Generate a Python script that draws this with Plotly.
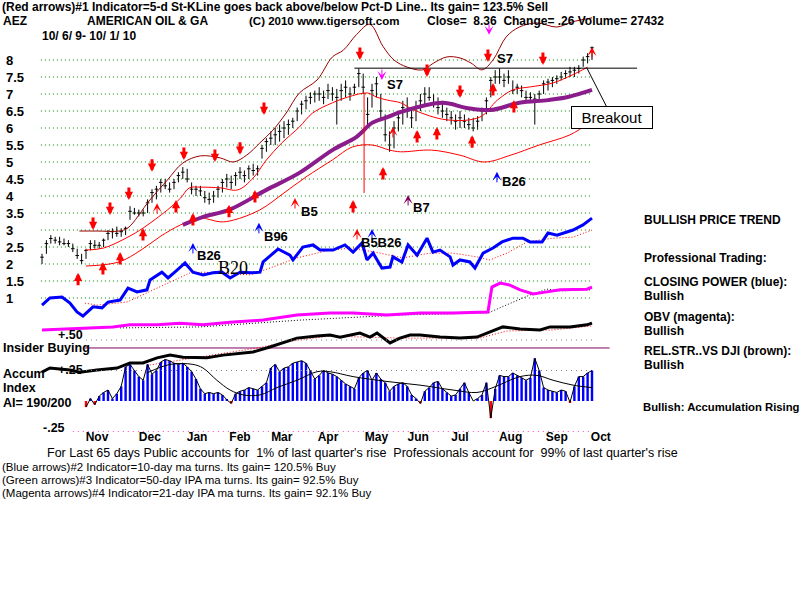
import plotly.graph_objects as go

# ---------------- data ----------------
# trading-day index t: 0 = 10/6/09 ... 250 = 10/1/10 ; one bar every 2 days
bar_t = list(range(0, 251, 2))
bar_low = [2.0, 2.3, 2.6, 2.6, 2.55, 2.55, 2.5, 2.35, 2.15, 2.0,
           2.15, 2.4, 2.45, 2.45, 2.5, 2.7, 2.75, 2.8, 2.8, 2.85,
           3.3, 3.45, 3.4, 3.4, 3.5, 3.8, 3.9, 4.1, 4.2, 4.1,
           4.2, 4.4, 4.5, 4.4, 4.05, 4.0, 4.0, 3.8, 3.75, 3.8,
           3.95, 4.1, 4.25, 4.2, 4.3, 4.5, 4.4, 4.5, 4.6, 4.6,
           5.1, 5.3, 5.5, 5.5, 5.6, 5.7, 5.8, 6.0, 6.2, 6.4,
           6.55, 6.7, 6.75, 6.8, 6.7, 6.85, 6.8, 6.1, 6.8, 6.9,
           6.8, 7.0, 7.2, 7.0, 6.0, 6.6, 6.9, 6.2, 5.6, 5.3,
           5.4, 5.9, 6.1, 6.3, 6.0, 6.2, 6.5, 6.7, 6.8, 6.6,
           6.4, 6.3, 6.2, 6.1, 5.95, 6.0, 6.0, 5.95, 5.9, 5.95,
           6.2, 6.4, 6.9, 7.3, 7.3, 7.2, 7.3, 7.0, 7.0, 6.9,
           6.8, 6.75, 6.1, 6.8, 7.0, 7.1, 7.2, 7.3, 7.4, 7.45,
           7.5, 7.5, 7.6, 7.8, 7.9, 8.0]
bar_high = [2.3, 2.7, 2.85, 2.8, 2.8, 2.75, 2.7, 2.6, 2.45, 2.3,
            2.45, 2.7, 2.7, 2.65, 2.75, 3.0, 3.05, 3.1, 3.05, 3.1,
            3.7, 3.65, 3.6, 3.6, 3.9, 4.2, 4.3, 4.5, 4.5, 4.4,
            4.5, 4.7, 4.85, 4.8, 4.4, 4.3, 4.3, 4.15, 4.1, 4.15,
            4.3, 4.5, 4.65, 4.6, 4.7, 4.85, 4.75, 4.9, 4.95, 4.9,
            5.5, 5.7, 5.9, 6.0, 6.1, 6.2, 6.25, 6.3, 6.6, 6.8,
            6.95, 7.05, 7.1, 7.2, 7.1, 7.3, 7.2, 7.15, 7.3, 7.4,
            7.2, 7.3, 7.75, 7.6, 6.9, 7.3, 7.5, 7.0, 6.4, 5.9,
            6.2, 6.5, 6.8, 6.9, 6.6, 6.8, 7.0, 7.2, 7.2, 7.0,
            6.9, 6.8, 6.6, 6.5, 6.4, 6.5, 6.4, 6.3, 6.3, 6.35,
            6.6, 6.9, 7.5, 7.7, 7.75, 7.6, 7.7, 7.4, 7.3, 7.25,
            7.1, 7.05, 7.0, 7.1, 7.4, 7.45, 7.5, 7.55, 7.65, 7.7,
            7.8, 7.8, 7.85, 8.1, 8.2, 8.4]
bar_close = [2.2, 2.6, 2.75, 2.7, 2.65, 2.6, 2.6, 2.45, 2.25, 2.1,
             2.4, 2.6, 2.55, 2.55, 2.7, 2.9, 2.95, 2.9, 2.95, 3.05,
             3.55, 3.5, 3.5, 3.5, 3.8, 4.1, 4.2, 4.4, 4.3, 4.2,
             4.4, 4.6, 4.7, 4.5, 4.2, 4.2, 4.15, 3.95, 3.9, 4.0,
             4.2, 4.4, 4.5, 4.4, 4.6, 4.7, 4.6, 4.8, 4.75, 4.8,
             5.4, 5.6, 5.7, 5.8, 5.9, 6.0, 6.1, 6.2, 6.5, 6.7,
             6.8, 6.9, 7.0, 7.0, 6.9, 7.1, 7.0, 6.9, 7.1, 7.2,
             7.0, 7.2, 7.6, 7.2, 6.4, 7.1, 7.3, 6.5, 5.8, 5.5,
             6.0, 6.3, 6.6, 6.5, 6.3, 6.6, 6.8, 7.0, 6.9, 6.7,
             6.6, 6.5, 6.4, 6.3, 6.2, 6.3, 6.2, 6.1, 6.0, 6.2,
             6.5, 6.8, 7.4, 7.5, 7.5, 7.4, 7.5, 7.1, 7.2, 7.1,
             6.9, 6.9, 6.85, 7.0, 7.3, 7.35, 7.4, 7.45, 7.5, 7.6,
             7.65, 7.7, 7.75, 8.0, 8.1, 8.36]

# upper (maroon) band
upper_t = [17, 25, 35, 39, 49, 57, 64, 72, 81, 87, 93, 99, 105, 111, 117, 125, 132, 137,
           143, 149, 155, 160, 166, 173, 178, 184, 190, 195, 200, 205, 211, 217, 225, 234, 241, 250]
upper_v = [2.97, 2.97, 2.97, 3.06, 3.88, 4.47, 4.97, 5.18, 5.12, 5.0, 5.2, 5.56, 5.94, 6.44,
           7.03, 7.41, 8.09, 8.29, 8.75, 9.05, 8.4, 8.0, 7.79, 7.71, 7.91, 8.09, 8.06, 7.91,
           7.71, 8.0, 8.68, 8.97, 9.09, 8.97, 9.12, 9.24]
# inner red band
inner_t = [20, 28, 39, 46, 57, 63, 67, 72, 81, 89, 96, 102, 109, 117, 123, 132, 139, 148,
           152, 157, 163, 169, 184, 199, 207, 214, 222, 232, 241, 248]
inner_v = [2.41, 2.47, 2.79, 3.06, 3.59, 3.94, 4.24, 4.26, 4.24, 4.18, 4.53, 5.06, 5.56,
           6.03, 6.44, 6.74, 6.91, 7.03, 6.91, 6.82, 6.74, 6.53, 6.24, 6.32, 6.82, 7.12,
           7.21, 7.32, 7.56, 7.79]
# lower red band
lower_t = [20, 35, 45, 54, 63, 72, 81, 87, 99, 110, 120, 132, 141, 150, 158, 163, 177,
           190, 201, 213, 226, 240, 250]
lower_v = [1.94, 2.06, 2.41, 2.82, 3.15, 3.35, 3.24, 3.29, 3.59, 4.09, 4.56, 5.06, 5.44,
           5.5, 5.35, 5.3, 5.35, 5.2, 5.0, 5.2, 5.5, 5.8, 6.2]
# 50-day moving average (purple)
ma50_t = [64, 73, 85, 102, 117, 132, 143, 150, 157, 163, 182, 193, 204, 217, 230, 239, 250]
ma50_v = [3.15, 3.38, 3.59, 4.18, 4.68, 5.35, 5.74, 6.15, 6.32, 6.47, 6.74, 6.59, 6.53,
          6.74, 6.82, 6.91, 7.12]

# Closing Power (blue), drawn in price-panel units
cp_t = [0, 3.6, 9.1, 12.7, 15.9, 18.6, 23.2, 27.3, 30, 35.5, 39.1, 43.2, 47.7, 49.1, 54.5,
        57.3, 61.4, 65, 68.6, 73.2, 77.7, 81.8, 85.5, 90, 95.5, 99.1, 100.5, 107.3, 112.7,
        114.1, 118.6, 123.2, 126.4, 132.3, 137.7, 141.4, 145.5, 147.7, 150.5, 154.5, 158.2,
        159.5, 163.6, 166.4, 170.5, 175, 177.7, 180.9, 185.5, 186.8, 190, 194.5, 196.8,
        200.5, 205, 209.1, 214.1, 218.6, 221.8, 227.3, 230, 234.1, 238.6, 241.4, 245.9, 250]
cp_v = [0.79, 1.0, 1.03, 0.85, 0.59, 0.47, 0.74, 0.71, 0.88, 0.94, 1.29, 1.18, 1.24, 1.53,
        1.76, 1.59, 1.82, 2.03, 1.76, 1.68, 1.74, 1.76, 1.59, 1.76, 1.74, 1.76, 2.06, 2.44,
        2.26, 2.12, 2.5, 2.56, 2.41, 2.41, 2.56, 2.35, 2.62, 2.12, 2.32, 1.88, 1.91, 2.21,
        2.06, 2.56, 2.26, 2.76, 2.35, 2.41, 2.21, 1.97, 2.12, 2.06, 1.88, 2.32, 2.47, 2.65,
        2.76, 2.76, 2.65, 2.65, 2.91, 2.85, 2.94, 3.0, 3.15, 3.35]
cp_ma_t = [19.5, 25, 38.6, 67.3, 73.2, 94.5, 103.6, 115.9, 130.9, 141.4, 153.6, 164.1,
           176.4, 186.8, 197.7, 203.6, 211.4, 220.5, 232.3, 241.4, 250]
cp_ma_v = [0.85, 0.79, 0.88, 1.74, 1.76, 1.68, 1.88, 2.18, 2.41, 2.47, 2.32, 2.18, 2.32,
           2.32, 2.21, 2.12, 2.32, 2.65, 2.76, 2.79, 3.0]

# OBV (magenta)
obv_t = [0, 17.3, 32.3, 40, 52.3, 62.7, 73.2, 85.5, 100.5, 115.9, 130.9, 141.4, 156.8,
         171.8, 186.8, 202.7, 204.5, 208.2, 212.7, 217.3, 223.2, 229.5, 235.5, 247.7, 250]
obv_v = [0.06, 0.12, 0.15, 0.21, 0.21, 0.26, 0.21, 0.29, 0.35, 0.5, 0.56, 0.56, 0.5, 0.56,
         0.56, 0.59, 1.32, 1.44, 1.38, 1.24, 1.12, 1.18, 1.24, 1.26, 1.32]
obv_ma_t = [35.5, 71.8, 117.3, 162.7, 202.7, 221.8, 229.5, 235.5, 250]
obv_ma_v = [0.12, 0.15, 0.35, 0.5, 0.56, 1.09, 1.26, 1.21, 1.24]

# Relative strength vs DJI (black)
rs_t = [0, 3.6, 12.7, 17.3, 25, 34.1, 40, 45.9, 52.3, 58.2, 64.1, 70.5, 75, 82.3, 90,
        95.9, 103.6, 115.9, 125, 130.9, 135.5, 140, 144.5, 149.1, 152.3, 158.2, 162.7,
        167.3, 171.8, 180.9, 190, 197.7, 203.6, 209.5, 217.3, 226.4, 230.9, 240, 247.7, 250]
rs_v = [-1.18, -1.06, -1.12, -1.18, -1.12, -1.06, -0.91, -0.91, -0.76, -0.68, -0.74,
        -0.74, -0.76, -0.68, -0.62, -0.59, -0.44, -0.18, -0.12, -0.09, -0.15, -0.09,
        -0.03, -0.15, -0.03, -0.32, -0.18, -0.09, -0.09, -0.15, -0.18, -0.15, 0.0, 0.15,
        0.09, 0.06, 0.15, 0.15, 0.21, 0.26]
rs_ma_t = [49, 70.5, 97.7, 115.9, 130.9, 162.7, 199, 211.4, 232.3, 250]
rs_ma_v = [-0.97, -0.74, -0.47, -0.24, -0.12, -0.18, -0.18, 0.03, 0.06, 0.18]
insider_level = -0.47
insider_t = [19.5, 258]

# Accumulation Index (one value per price bar)
ai_v = [None] * 10 + [
    -0.05, 0.02, -0.03, 0.04, 0.07, 0.09, 0.02, 0.06, 0.12, 0.28,
    0.3, 0.25, 0.2, 0.17, 0.3, 0.22, 0.25, 0.32, 0.34, 0.33,
    0.31, 0.3, 0.31, 0.28, 0.24, 0.18, 0.1, 0.06, 0.07, 0.06,
    0.07, 0.05, 0.01, -0.02, 0.06, 0.08, 0.09, 0.11, 0.1, 0.09,
    0.12, 0.15, 0.27, 0.3, 0.24, 0.27, 0.28, 0.31, 0.32, 0.33,
    0.31, 0.25, 0.18, 0.21, 0.25, 0.23, 0.22, 0.2, 0.17, 0.14,
    0.12, 0.1, 0.19, 0.23, 0.25, 0.17, 0.23, 0.18, 0.15, 0.08,
    0.12, 0.14, 0.15, 0.12, 0.05, 0.02, -0.02, 0.08, 0.11, 0.15,
    0.16, 0.1, 0.07, 0.04, 0.05, 0.1, 0.15, 0.07, 0.0, 0.02,
    0.05, 0.15, -0.14, 0.1, 0.21, 0.2, 0.2, 0.23, 0.21, 0.19,
    0.17, 0.19, 0.35, 0.25, 0.11, 0.09, 0.08, 0.07, 0.09, 0.08,
    -0.01, 0.12, 0.2, 0.2, 0.23, 0.25]
ai_ma_t = [47.7, 58.2, 68.6, 73.2, 79.5, 85.5, 91.4, 99.1, 106.8, 115.9, 125, 130.9,
           141.4, 156.8, 171.8, 186.8, 197.7, 205, 217.3, 225, 232.3, 241.4, 250]
ai_ma_v = [0.23, 0.3, 0.3, 0.27, 0.17, 0.09, 0.05, 0.05, 0.11, 0.17, 0.24, 0.24, 0.2,
           0.16, 0.13, 0.09, 0.07, 0.11, 0.2, 0.21, 0.17, 0.13, 0.11]
ai_levels = [0.5, 0.25]
ai_low_level = -0.25

# price grid / tick labels
price_ticks = [1, 1.5, 2, 2.5, 3, 3.5, 4, 4.5, 5, 5.5, 6, 6.5, 7, 7.5, 8]
price_tick_text = ["1", "1.5", "2", "2.5", "3", "3.5", "4", "4.5", "5", "5.5", "6",
                   "6.5", "7", "7.5", "8"]
month_t = [25, 49, 70.5, 90, 109, 130, 152, 171, 190, 213, 234, 254]
month_text = ["Nov", "Dec", "Jan", "Feb", "Mar", "Apr", "May", "Jun", "Jul", "Aug",
              "Sep", "Oct"]

# resistance / breakout
resist_level = 7.76
resist_t = [142, 270.5]
breakout_t = 247.7

# long red spike in late April
spike_t = [146.4]
spike_top = [7.03]
spike_bottom = [4.09]

# signal arrows (tip positions)
red_down_t = [23.2, 30.9, 39.5, 50, 64.5, 78.6, 90, 100.9, 144.5, 175, 190, 202.7, 227.7]
red_down_v = [3.0, 3.44, 3.88, 4.71, 5.06, 5.0, 5.21, 6.38, 8.0, 7.5, 6.88, 7.94, 7.85]
red_up_t = [16.4, 27.7, 35.5, 45.9, 60.9, 68.6, 85, 96.8, 141.4, 155, 170.5, 179.5,
            195.5, 214.5, 205]
red_up_v = [1.74, 2.06, 2.35, 3.06, 3.88, 3.5, 3.74, 4.18, 3.88, 4.85, 5.94, 6.03,
            5.79, 6.82, 7.32]
thin_red_up_t = [52.3, 115, 143.2, 159.5, 250]
thin_red_up_v = [3.79, 3.94, 3.03, 6.03, 8.38]
blue_up_t = [68.6, 98.6, 150, 206.8]
blue_up_v = [2.62, 3.21, 3.03, 4.71]
purple_up_t = [166.4]
purple_up_v = [4.03]
pink_down_t = [154.5, 203.2]
pink_down_v = [7.41, 8.74]

sig_text = ["B26", "B96", "B5", "B7", "B5B26", "S7", "S7", "B26"]
sig_t = [76, 106.4, 121.4, 172.7, 154, 160.5, 210.5, 214.5]
sig_v = [2.24, 2.82, 3.53, 3.65, 2.62, 7.29, 8.03, 4.44]
b20_t, b20_v = [87, 1.88]

# ---------------- layout constants ----------------
W, H = 800, 600
X0, DX = 42.0, 2.2          # pixel of t=0, pixels per trading day
Y8, DY = 60.0, 34.0         # pixel of price 8, pixels per price unit
AI0, DAI = 401.0, 122.0     # pixel of AI=0, pixels per AI unit

SANS = "Liberation Sans, Arial, sans-serif"


def P(x, y):
    return x / W, 1 - y / H


fig = go.Figure()

# green dotted price grid
gx, gy = [], []
for lv in price_ticks:
    gx += [bar_t[0] - 0.5, bar_t[-1], None]
    gy += [lv, lv, None]
fig.add_trace(go.Scatter(x=gx, y=gy, mode="lines",
                         line=dict(color="#008000", width=1, dash="1px,3px"), hoverinfo="skip"))

# AI reference dotted lines
lx, ly = [], []
for lv in ai_levels:
    lx += [20, bar_t[-1], None]
    ly += [lv, lv, None]
fig.add_trace(go.Scatter(x=lx, y=ly, yaxis="y2", mode="lines",
                         line=dict(color="#808080", width=1, dash="1px,4px"), hoverinfo="skip"))
fig.add_trace(go.Scatter(x=[14, bar_t[-1]], y=[ai_low_level, ai_low_level], yaxis="y2",
                         mode="lines", line=dict(color="#FF40C0", width=1, dash="1px,4px"),
                         hoverinfo="skip"))

# bands and MA
fig.add_trace(go.Scatter(x=upper_t, y=upper_v, mode="lines", line_shape="spline",
                         line=dict(color="#990000", width=1)))
fig.add_trace(go.Scatter(x=inner_t, y=inner_v, mode="lines", line_shape="spline",
                         line=dict(color="#FF0000", width=1)))
fig.add_trace(go.Scatter(x=lower_t, y=lower_v, mode="lines", line_shape="spline",
                         line=dict(color="#FF0000", width=1)))
fig.add_trace(go.Scatter(x=ma50_t, y=ma50_v, mode="lines", line_shape="spline",
                         line=dict(color="#8B1C8B", width=4)))

# resistance line
fig.add_trace(go.Scatter(x=resist_t, y=[resist_level, resist_level], mode="lines",
                         line=dict(color="black", width=1)))

# red spike
sx, sy = [], []
for t, a, b in zip(spike_t, spike_top, spike_bottom):
    sx += [t, t, None]
    sy += [a, b, None]
fig.add_trace(go.Scatter(x=sx, y=sy, mode="lines", line=dict(color="#FF0000", width=1)))

# price bars
fig.add_trace(go.Ohlc(x=bar_t, open=bar_close, high=bar_high, low=bar_low, close=bar_close,
                      increasing=dict(line=dict(color="black", width=1)),
                      decreasing=dict(line=dict(color="black", width=1)),
                      tickwidth=0.4, hoverinfo="skip"))

# indicators
fig.add_trace(go.Scatter(x=cp_ma_t, y=cp_ma_v, mode="lines",
                         line=dict(color="#FF0000", width=1, dash="1px,2px")))
fig.add_trace(go.Scatter(x=cp_t, y=cp_v, mode="lines", line=dict(color="#0000FF", width=3)))
fig.add_trace(go.Scatter(x=obv_ma_t, y=obv_ma_v, mode="lines",
                         line=dict(color="black", width=1, dash="1px,2px")))
fig.add_trace(go.Scatter(x=obv_t, y=obv_v, mode="lines", line=dict(color="#FF00FF", width=3)))
fig.add_trace(go.Scatter(x=insider_t, y=[insider_level, insider_level], mode="lines",
                         line=dict(color="#800060", width=1)))
fig.add_trace(go.Scatter(x=rs_ma_t, y=rs_ma_v, mode="lines",
                         line=dict(color="#FF0000", width=1, dash="1px,2px")))
fig.add_trace(go.Scatter(x=rs_t, y=rs_v, mode="lines", line=dict(color="black", width=3)))

# accumulation index bars
ai_colors = ["#FF0000" if (v is not None and v < 0) else "#0000FF" for v in ai_v]
fig.add_trace(go.Bar(x=bar_t, y=ai_v, yaxis="y2", width=1.1, marker=dict(color=ai_colors,
                     line=dict(width=0)), hoverinfo="skip"))
fig.add_trace(go.Scatter(x=bar_t, y=ai_v, yaxis="y2", mode="lines",
                         line=dict(color="black", width=1)))
fig.add_trace(go.Scatter(x=ai_ma_t, y=ai_ma_v, yaxis="y2", mode="lines", line_shape="spline",
                         line=dict(color="black", width=1)))

ann = []


def arrows(ts, vs, color, width, down, length, head=2, size=0.9):
    for t, v in zip(ts, vs):
        ann.append(dict(x=t, y=v, xref="x", yref="y", text="", showarrow=True,
                        arrowhead=head, arrowsize=size, arrowwidth=width, arrowcolor=color,
                        ax=0, ay=-length if down else length))


arrows(red_down_t, red_down_v, "#FF0000", 3, True, 14, head=2, size=0.55)
arrows(red_up_t, red_up_v, "#FF0000", 3, False, 14, head=2, size=0.55)
arrows(thin_red_up_t, thin_red_up_v, "#FF0000", 1, False, 12, head=3, size=1.5)
arrows(blue_up_t, blue_up_v, "#0000FF", 1, False, 12, head=3, size=1.5)
arrows(purple_up_t, purple_up_v, "#800060", 1, False, 12, head=3, size=1.5)
arrows(pink_down_t, pink_down_v, "#FF00FF", 1, True, 12, head=3, size=1.5)

for s, t, v in zip(sig_text, sig_t, sig_v):
    ann.append(dict(x=t, y=v, xref="x", yref="y", text=s, showarrow=False,
                    font=dict(family=SANS, size=13, color="black", weight="bold")))
ann.append(dict(x=b20_t, y=b20_v, xref="x", yref="y", text="B20", showarrow=False,
                font=dict(family="Liberation Serif, Times New Roman, serif", size=18,
                          color="black")))

# breakout callout
ann.append(dict(x=breakout_t, y=resist_level, xref="x", yref="y", text="Breakout",
                showarrow=True, arrowhead=0, arrowwidth=1, arrowcolor="black", ax=25, ay=49,
                bordercolor="black", borderwidth=1, borderpad=2, bgcolor="white", width=76,
                font=dict(family=SANS, size=15, color="black")))


def txt(x, y, s, size=12, bold=True, family=SANS, color="black"):
    px, py = P(x, y)
    ann.append(dict(x=px, y=py, xref="paper", yref="paper", text=s, showarrow=False,
                    xanchor="left", yanchor="middle",
                    font=dict(family=family, size=size, color=color,
                              weight="bold" if bold else "normal")))


txt(0, 7, "(Red arrows)#1 Indicator=5-d St-KLine goes back above/below Pct-D Line.. Its gain= 123.5% Sell", 12)
txt(1, 21, "AEZ", 12)
txt(85, 21, "AMERICAN OIL &amp; GA", 12)
txt(247, 21, "(C) 2010 www.tigersoft.com", 11.5)
txt(425, 21, "Close=  8.36  Change= .26 Volume= 27432", 12)
txt(40, 36, "10/ 6/ 9- 10/ 1/ 10", 12)

txt(642, 220, "BULLISH PRICE TREND", 12)
txt(642, 258, "Professional Trading:", 12)
txt(642, 282, "CLOSING POWER (blue):", 12)
txt(642, 296, "Bullish", 12)
txt(642, 317, "OBV (magenta):", 12)
txt(642, 331, "Bullish", 12)
txt(642, 351, "REL.STR..VS DJI (brown):", 12)
txt(642, 365, "Bullish", 12)
txt(641, 407, "Bullish: Accumulation Rising", 11.3)

txt(56, 335, "+.50", 12.5)
txt(1, 348, "Insider Buying", 12.5)
txt(56, 370, "+.25", 12.5)
txt(1, 374, "Accum", 12.5)
txt(1, 388, "Index", 12.5)
txt(1, 403, "AI= 190/200", 12.5)
txt(41, 428, "-.25", 12.5)

txt(45, 453, "For Last 65 days Public accounts for  1% of last quarter's rise  Professionals account for  99% of last quarter's rise", 12.5, bold=False)
txt(0, 467, "(Blue arrows)#2 Indicator=10-day ma turns. Its gain= 120.5% Buy", 11.5, bold=False)
txt(0, 480, "(Green arrows)#3 Indicator=50-day IPA ma turns. Its gain= 92.5% Buy", 11.5, bold=False)
txt(0, 493, "(Magenta arrows)#4 Indicator=21-day IPA ma turns. Its gain= 92.1% Buy", 11.5, bold=False)

fig.update_layout(
    width=W, height=H, margin=dict(l=0, r=0, t=0, b=0),
    paper_bgcolor="white", plot_bgcolor="white", showlegend=False,
    annotations=ann,
    xaxis=dict(range=[-X0 / DX, (W - X0) / DX], domain=[0, 1], showgrid=False,
               zeroline=False, showline=False, rangeslider=dict(visible=False),
               tickvals=month_t, ticktext=month_text, ticks="", anchor="free",
               position=(H - 428) / H,
               tickfont=dict(family=SANS, size=12, color="black", weight="bold")),
    yaxis=dict(range=[8 - (H - Y8) / DY, 8 + Y8 / DY], domain=[0, 1], showgrid=False,
               zeroline=False, showline=False, tickvals=price_ticks, ticktext=price_tick_text,
               ticks="", ticklabelposition="inside", ticklabelstandoff=3,
               tickfont=dict(family=SANS, size=13, color="black", weight="bold")),
    yaxis2=dict(range=[-(H - AI0) / DAI, AI0 / DAI], overlaying="y", visible=False),
)

fig.write_html("out.html")
